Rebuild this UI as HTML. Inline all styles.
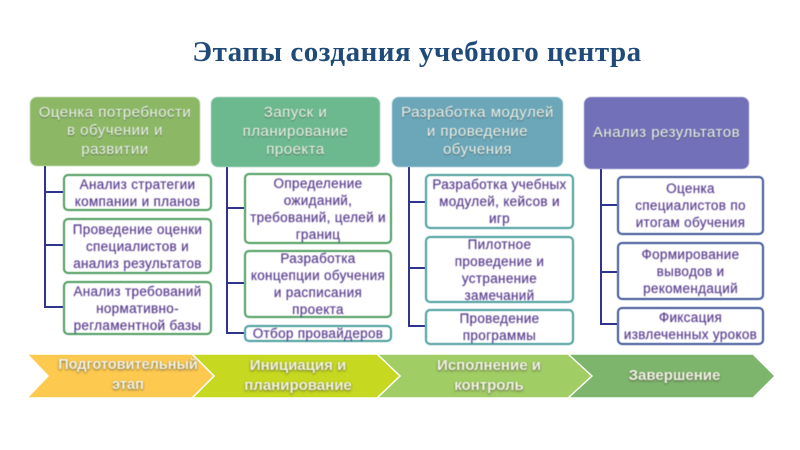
<!DOCTYPE html>
<html lang="ru">
<head>
<meta charset="utf-8">
<title>Этапы создания учебного центра</title>
<style>
html,body{margin:0;padding:0;background:#fff}
#p{position:relative;width:800px;height:450px;overflow:hidden;background:#fff;font-family:"Liberation Sans","DejaVu Sans",sans-serif}
.t{position:absolute;left:17px;width:800px;top:34px;text-align:center;font:bold 29px/36px "Liberation Serif",serif;color:#1f4a7a;letter-spacing:.5px;white-space:nowrap}
.h,.s,.c{position:absolute;display:flex;align-items:center;justify-content:center;text-align:center;box-sizing:border-box;filter:blur(.4px);white-space:nowrap}
.h{border-radius:7px;color:#eef3ea;font-size:15px;line-height:18.5px;letter-spacing:.5px;text-shadow:0 1px 1px rgba(50,60,50,.6)}
.s{background:#fff;border:2px solid;border-radius:5px;color:#5b3f8f;font-size:13.5px;line-height:17px;letter-spacing:.32px;-webkit-text-stroke:.2px #5b3f8f}
.c{color:#f2f2e6;font-size:15px;line-height:19.5px;font-weight:bold;top:353px;height:45px;text-shadow:0 1px 2px rgba(70,70,50,.8)}
svg{position:absolute;left:0;top:0}
.g{border-color:#4a9a5c}.b{border-color:#479c9c}.v{border-color:#3d5495}
</style>
</head>
<body>
<div id="p">
<div class="t">Этапы создания учебного центра</div>

<svg width="800" height="450" viewBox="0 0 800 450">
<g fill="none" stroke="#2f358f" stroke-width="2">
<path d="M45 166V307H63M45 192H63M45 245H63"/>
<path d="M227 167V333H244M227 208H244M227 283H244"/>
<path d="M409 167V326H425M409 202H425M409 268H425"/>
<path d="M601 169V324H617M601 205H617M601 272H617"/>
</g>
<g stroke="#fff" stroke-width="1.4">
<polygon points="775,376 753,354 568,354 590,376 568,398 753,398" fill="#7eb56c"/>
<polygon points="592,376 568,354 377,354 400,376 377,398 568,398" fill="#a1cd65"/>
<polygon points="400,376 377,354 192,354 214,376 192,398 377,398" fill="#c6d81f"/>
<polygon points="214,376 192,354 27,354 48,376 27,398 192,398" fill="#fdc94f"/>
</g>
</svg>

<div class="h" style="left:30px;top:97px;width:170px;height:69px;background:#8cb866">Оценка потребности<br>в обучении и<br>развитии</div>
<div class="h" style="left:211px;top:97px;width:169px;height:70px;background:#6cb88f">Запуск и<br>планирование<br>проекта</div>
<div class="h" style="left:392px;top:97px;width:171px;height:70px;background:#6ba6b9">Разработка модулей<br>и проведение<br>обучения</div>
<div class="h" style="left:584px;top:97px;width:165px;height:72px;background:#7270b8">Анализ результатов</div>

<div class="s g" style="left:63px;top:174px;width:149px;height:37px">Анализ стратегии<br>компании и планов</div>
<div class="s g" style="left:63px;top:218px;width:149px;height:56px">Проведение оценки<br>специалистов и<br>анализ результатов</div>
<div class="s g" style="left:63px;top:281px;width:149px;height:54px">Анализ требований<br>нормативно-<br>регламентной базы</div>

<div class="s g" style="left:244px;top:173px;width:148px;height:71px">Определение<br>ожиданий,<br>требований, целей и<br>границ</div>
<div class="s g" style="left:244px;top:250px;width:148px;height:68px">Разработка<br>концепции обучения<br>и расписания<br>проекта</div>
<div class="s b" style="left:244px;top:325px;width:148px;height:17px">Отбор провайдеров</div>

<div class="s b" style="left:425px;top:174px;width:149px;height:55px">Разработка учебных<br>модулей, кейсов и<br>игр</div>
<div class="s b" style="left:425px;top:236px;width:149px;height:67px">Пилотное<br>проведение и<br>устранение<br>замечаний</div>
<div class="s b" style="left:425px;top:309px;width:149px;height:36px">Проведение<br>программы</div>

<div class="s v" style="left:617px;top:176px;width:147px;height:59px">Оценка<br>специалистов по<br>итогам обучения</div>
<div class="s v" style="left:617px;top:242px;width:147px;height:58px">Формирование<br>выводов и<br>рекомендаций</div>
<div class="s v" style="left:617px;top:307px;width:147px;height:38px">Фиксация<br>извлеченных уроков</div>

<div class="c" style="left:50px;width:156px;font-size:14.5px">Подготовительный<br>этап</div>
<div class="c" style="left:225px;width:146px">Инициация и<br>планирование</div>
<div class="c" style="left:414px;width:150px">Исполнение и<br>контроль</div>
<div class="c" style="left:602px;width:145px">Завершение</div>
</div>
</body>
</html>
